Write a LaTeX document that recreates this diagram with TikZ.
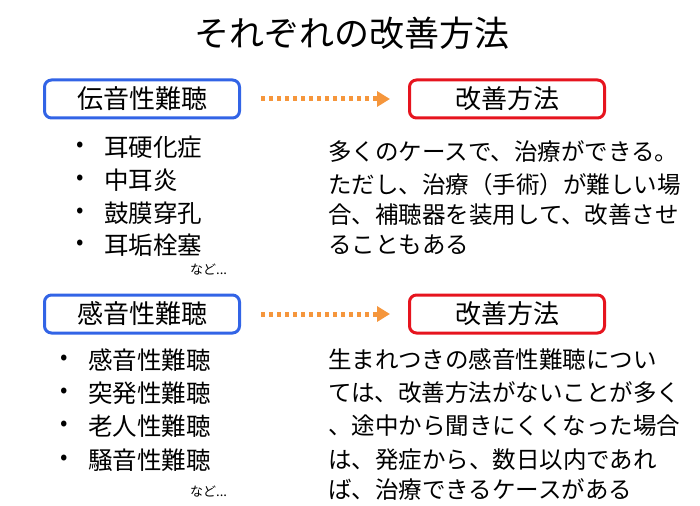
\documentclass[tikz,border=0pt]{standalone}
\usepackage{fontspec}
\setmainfont{Noto Sans CJK JP}
\usetikzlibrary{arrows.meta}
\definecolor{bl}{RGB}{50,100,230}
\definecolor{rd}{RGB}{230,20,30}
\definecolor{og}{RGB}{245,150,60}
\begin{document}
\begin{tikzpicture}[x=1pt,y=-1pt,
  box/.style={draw,line width=3pt,rounded corners=7pt,minimum width=195pt,minimum height=38pt,font=\fontsize{26}{28}\selectfont,inner sep=0pt},
  arr/.style={og,line width=5pt,dash pattern=on 4pt off 4pt,-{Triangle[length=13pt,width=15pt]}},
  dot/.style={anchor=west,font=\fontsize{22}{24}\selectfont,inner sep=0pt},
  bul/.style={anchor=west,font=\fontsize{24.5}{26}\selectfont,inner sep=0pt},
  txt/.style={anchor=west,font=\fontsize{23.5}{26}\selectfont,inner sep=0pt},
  nado/.style={anchor=west,font=\fontsize{13}{15}\selectfont,inner sep=0pt}]
\useasboundingbox (0,0) rectangle (700,505);
\node[font=\fontsize{35}{38}\selectfont] (title) at (352,33) {それぞれの改善方法};
\node[box,bl] (b1) at (142,99) {\color{black}伝音性難聴};
\node[box,rd] (b2) at (507,99) {\color{black}改善方法};
\draw[arr] ([xshift=20pt]b1.east) -- ([xshift=-18pt]b2.west);
\foreach \n/\t/\y in {l1/耳硬化症/147,l2/中耳炎/180,l3/鼓膜穿孔/213,l4/耳垢栓塞/245}{
  \node[dot] (\n d) at (76,\y) {•};
  \node[bul] (\n) at (104,\y) {\t};}
\node[nado] (n1) at (190,270) {など...};
\node[txt] (r1) at (328,152) {多くのケースで、治療ができる。};
\node[txt] (r2) at (328,185) {ただし、治療（手術）が難しい場};
\node[txt] (r3) at (328,215) {合、補聴器を装用して、改善させ};
\node[txt] (r4) at (328,245) {ることもある};
\node[box,bl] (b3) at (142,314) {\color{black}感音性難聴};
\node[box,rd] (b4) at (507,314) {\color{black}改善方法};
\draw[arr] ([xshift=20pt]b3.east) -- ([xshift=-18pt]b4.west);
\foreach \n/\t/\y in {m1/感音性難聴/360,m2/突発性難聴/393,m3/老人性難聴/426,m4/騒音性難聴/460}{
  \node[dot] (\n d) at (60,\y) {•};
  \node[bul] (\n) at (88,\y) {\t};}
\node[nado] (n2) at (190,492) {など...};
\node[txt] (s1) at (328,360) {生まれつきの感音性難聴につい};
\node[txt] (s2) at (328,393) {ては、改善方法がないことが多く};
\node[txt] (s3) at (328,426) {、途中から聞きにくくなった場合};
\node[txt] (s4) at (328,460) {は、発症から、数日以内であれ};
\node[txt] (s5) at (328,490) {ば、治療できるケースがある};
\end{tikzpicture}
\end{document}
